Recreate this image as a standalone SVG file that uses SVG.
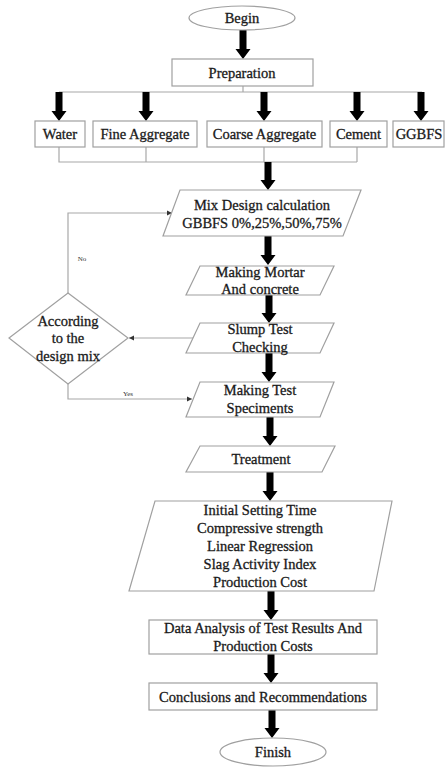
<svg xmlns="http://www.w3.org/2000/svg" width="446" height="767" viewBox="0 0 446 767">
<style>
.box{fill:#fff;stroke:#a0a0a0;stroke-width:1.2}
.t{font-family:"Liberation Serif","Times New Roman",serif;font-size:14.5px;fill:#1a1a1a;stroke:#1a1a1a;stroke-width:0.3;text-anchor:middle}
.s{font-family:"Liberation Serif","Times New Roman",serif;font-size:7px;fill:#333;text-anchor:middle}
.ln{fill:none;stroke:#a8a8a8;stroke-width:1.2}
.ar{fill:#000}
</style>
<defs>
<marker id="sm" markerWidth="6" markerHeight="6" refX="5" refY="3" orient="auto" markerUnits="userSpaceOnUse">
<path d="M0,0.5 L5,3 L0,5.5 Z" fill="#333"/>
</marker>
</defs>
<rect width="446" height="767" fill="#fff"/>
<g id="connectors">
<path class="ln" d="M243,86 V92 M59,92 H422"/>
<path class="ln" d="M59,147 V162 H357 M146,147 V162 M264,147 V162 M357,147 V162"/>
<path class="ln" d="M193,338 H129" marker-end="url(#sm)"/>
<path class="ln" d="M68,293 V213 H172" marker-end="url(#sm)"/>
<path class="ln" d="M68,384 V399 H192" marker-end="url(#sm)"/>
<text class="s" x="82" y="261">No</text>
<text class="s" x="128" y="396">Yes</text>
<polygon class="ar" points="239.5,30 246.5,30 246.5,49 250.5,49 243,59 235.5,49 239.5,49"/>
<polygon class="ar" points="55.5,92 62.5,92 62.5,111 66.5,111 59,121 51.5,111 55.5,111"/>
<polygon class="ar" points="142.5,92 149.5,92 149.5,111 153.5,111 146,121 138.5,111 142.5,111"/>
<polygon class="ar" points="260.5,92 267.5,92 267.5,111 271.5,111 264,121 256.5,111 260.5,111"/>
<polygon class="ar" points="353.5,92 360.5,92 360.5,111 364.5,111 357,121 349.5,111 353.5,111"/>
<polygon class="ar" points="417.5,92 424.5,92 424.5,111 428.5,111 421,121 413.5,111 417.5,111"/>
<polygon class="ar" points="264.5,162 271.5,162 271.5,180 275.5,180 268,190 260.5,180 264.5,180"/>
<polygon class="ar" points="264.5,236 271.5,236 271.5,255 275.5,255 268,265 260.5,255 264.5,255"/>
<polygon class="ar" points="265.5,295 272.5,295 272.5,313 276.5,313 269,323 261.5,313 265.5,313"/>
<polygon class="ar" points="265.5,353 272.5,353 272.5,372 276.5,372 269,382 261.5,372 265.5,372"/>
<polygon class="ar" points="266.5,417 273.5,417 273.5,436 277.5,436 270,446 262.5,436 266.5,436"/>
<polygon class="ar" points="266.5,472 273.5,472 273.5,491 277.5,491 270,501 262.5,491 266.5,491"/>
<polygon class="ar" points="267.5,591 274.5,591 274.5,610 278.5,610 271,620 263.5,610 267.5,610"/>
<polygon class="ar" points="267.5,654 274.5,654 274.5,673 278.5,673 271,683 263.5,673 267.5,673"/>
<polygon class="ar" points="268.5,710 275.5,710 275.5,728 279.5,728 272,738 264.5,728 268.5,728"/>
</g>
<g id="begin">
<ellipse class="box" cx="242" cy="18" rx="53" ry="12"/>
<text class="t" x="242" y="23">Begin</text>
</g>
<g id="preparation">
<rect class="box" x="172" y="59" width="141" height="27"/>
<text class="t" x="242" y="78">Preparation</text>
</g>
<g id="water">
<rect class="box" x="35" y="121" width="50" height="26"/>
<text class="t" x="60" y="139">Water</text>
</g>
<g id="fine">
<rect class="box" x="93" y="121" width="104" height="26"/>
<text class="t" x="145" y="139">Fine Aggregate</text>
</g>
<g id="coarse">
<rect class="box" x="207" y="121" width="115" height="26"/>
<text class="t" x="264.5" y="139">Coarse Aggregate</text>
</g>
<g id="cement">
<rect class="box" x="330" y="121" width="57" height="26"/>
<text class="t" x="358.5" y="139">Cement</text>
</g>
<g id="ggbfs">
<rect class="box" x="393" y="121" width="51" height="26"/>
<text class="t" x="419" y="139">GGBFS</text>
</g>
<g id="mixdesign">
<polygon class="box" points="180,190 361,190 343,236 163,236"/>
<text class="t" x="262" y="210">Mix Design calculation</text>
<text class="t" x="262" y="228">GBBFS 0%,25%,50%,75%</text>
</g>
<g id="mortar">
<polygon class="box" points="200,266 334,266 320,295 186,295"/>
<text class="t" x="260" y="277">Making Mortar</text>
<text class="t" x="260" y="294">And concrete</text>
</g>
<g id="slump">
<polygon class="box" points="200,323 334,323 320,353 186,353"/>
<text class="t" x="260" y="334">Slump Test</text>
<text class="t" x="260" y="352">Checking</text>
</g>
<g id="decision">
<polygon class="box" points="68,293 128,338 68,384 9,338"/>
<text class="t" x="68" y="326">According</text>
<text class="t" x="68" y="343">to the</text>
<text class="t" x="68" y="361">design mix</text>
</g>
<g id="specimens">
<polygon class="box" points="200,382 334,382 320,417 186,417"/>
<text class="t" x="260" y="395">Making Test</text>
<text class="t" x="260" y="413">Speciments</text>
</g>
<g id="treatment">
<polygon class="box" points="200,446 335,446 322,472 186,472"/>
<text class="t" x="261" y="464">Treatment</text>
</g>
<g id="tests">
<polygon class="box" points="155,501 392,501 374,591 129,591"/>
<text class="t" x="260" y="515">Initial Setting Time</text>
<text class="t" x="260" y="533">Compressive strength</text>
<text class="t" x="260" y="551">Linear Regression</text>
<text class="t" x="260" y="569">Slag Activity Index</text>
<text class="t" x="260" y="587">Production Cost</text>
</g>
<g id="analysis">
<rect class="box" x="149" y="620" width="228" height="34"/>
<text class="t" x="263" y="633">Data Analysis of Test Results And</text>
<text class="t" x="263" y="651">Production Costs</text>
</g>
<g id="conclusions">
<rect class="box" x="149" y="683" width="228" height="27"/>
<text class="t" x="263" y="702">Conclusions and Recommendations</text>
</g>
<g id="finish">
<ellipse class="box" cx="273" cy="752" rx="53" ry="14"/>
<text class="t" x="273" y="757">Finish</text>
</g>
</svg>
